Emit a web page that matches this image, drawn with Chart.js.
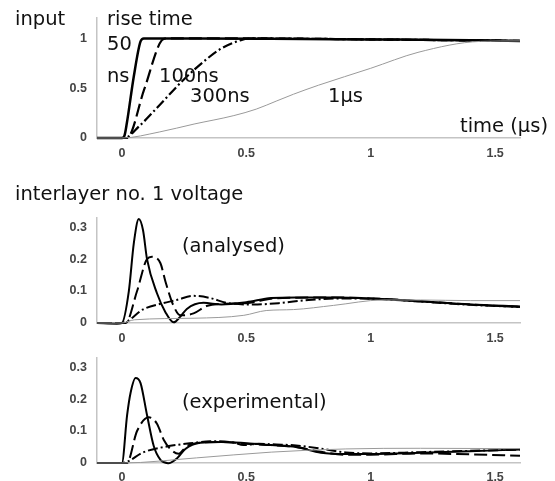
<!DOCTYPE html>
<html><head><meta charset="utf-8">
<script src="https://cdn.jsdelivr.net/npm/chart.js@4.4.1/dist/chart.umd.min.js"></script>
<style>
html,body{margin:0;padding:0;background:#fff;width:555px;height:481px;overflow:hidden;}
body{position:relative;}
canvas{position:absolute;left:0;}
.lbl{position:absolute;font-family:"DejaVu Sans";font-size:19.5px;line-height:19px;white-space:nowrap;color:#111;}
</style></head><body>
<canvas id="c1" width="555" height="165" style="top:0"></canvas>
<canvas id="c2" width="555" height="145" style="top:200px"></canvas>
<canvas id="c3" width="555" height="150" style="top:340px"></canvas>
<script>
// ---- tick labels ----
const xTicks = [0, 0.5, 1, 1.5];
const yTicksInput = [0, 0.5, 1];
const yTicksVolt = [0, 0.1, 0.2, 0.3];

// ---- input (top panel) ----
const inX50  = [-0.1, 0, 0.01, 0.02, 0.048, 0.075, 0.088, 0.3, 0.6, 1.0, 1.3, 1.6];
const inY50  = [0, 0, 0.02, 0.15, 0.62, 0.97, 1.0, 1.0, 0.997, 0.99, 0.985, 0.975];
const inX100 = [-0.1, 0, 0.02, 0.09, 0.16, 0.18, 0.5, 1.0, 1.6];
const inY100 = [0, 0, 0, 0.49, 0.98, 1.0, 1.0, 0.99, 0.975];
const inX300 = [-0.1, 0, 0.01, 0.07, 0.14, 0.25, 0.33, 0.4, 0.475, 0.52, 1.0, 1.6];
const inY300 = [0, 0, 0, 0.12, 0.3, 0.59, 0.77, 0.9, 0.98, 1.0, 0.99, 0.975];
const inX1u  = [-0.1, 0, 0.15, 0.29, 0.45, 0.54, 0.62, 0.69, 0.79, 1.0, 1.19, 1.44, 1.6];
const inY1u  = [0, 0, 0.06, 0.14, 0.225, 0.29, 0.37, 0.44, 0.53, 0.7, 0.86, 0.97, 0.975];

// ---- interlayer voltage, analysed ----
const anX50  = [-0.1, -0.02, 0, 0.028, 0.048, 0.068, 0.085, 0.101, 0.141, 0.175, 0.208, 0.235, 0.261, 0.328, 0.4, 0.5, 0.6, 0.7, 0.85, 1.0, 1.2, 1.4, 1.6];
const anY50  = [0, -0.002, 0, 0.10, 0.25, 0.325, 0.29, 0.20, 0.093, 0.034, 0.002, 0.02, 0.044, 0.063, 0.058, 0.065, 0.078, 0.08, 0.08, 0.077, 0.068, 0.058, 0.052];
const anX100 = [-0.1, 0, 0.015, 0.061, 0.101, 0.121, 0.155, 0.175, 0.208, 0.235, 0.288, 0.34, 0.395, 0.5, 0.6, 0.7, 0.85, 1.0, 1.2, 1.4, 1.6];
const anY100 = [0, 0, 0, 0.10, 0.20, 0.207, 0.187, 0.13, 0.053, 0.024, 0.03, 0.053, 0.06, 0.062, 0.076, 0.079, 0.08, 0.077, 0.068, 0.058, 0.05];
const anX300 = [-0.1, 0, 0.088, 0.155, 0.22, 0.288, 0.355, 0.421, 0.528, 0.63, 0.75, 0.9, 1.0, 1.2, 1.4, 1.6];
const anY300 = [0, 0, 0.044, 0.06, 0.072, 0.085, 0.078, 0.063, 0.058, 0.062, 0.072, 0.077, 0.076, 0.067, 0.057, 0.05];
const anX1u  = [-0.1, 0, 0.05, 0.29, 0.49, 0.58, 0.69, 0.85, 1.05, 1.2, 1.4, 1.6];
const anY1u  = [0, 0, 0.01, 0.015, 0.024, 0.039, 0.042, 0.055, 0.072, 0.072, 0.07, 0.07];

// ---- interlayer voltage, experimental ----
const exX50  = [-0.1, 0, 0.021, 0.035, 0.055, 0.075, 0.101, 0.128, 0.155, 0.188, 0.221, 0.255, 0.315, 0.4, 0.5, 0.6, 0.7, 0.8, 0.9, 1.0, 1.2, 1.4, 1.6];
const exY50  = [0, 0, 0.15, 0.22, 0.266, 0.25, 0.15, 0.053, 0.01, -0.001, 0.014, 0.044, 0.063, 0.066, 0.062, 0.056, 0.05, 0.032, 0.028, 0.028, 0.032, 0.037, 0.042];
const exX100 = [-0.1, 0, 0.02, 0.061, 0.108, 0.141, 0.168, 0.201, 0.228, 0.261, 0.32, 0.4, 0.5, 0.6, 0.7, 0.8, 0.9, 1.0, 1.2, 1.4, 1.6];
const exY100 = [0, 0, 0, 0.10, 0.143, 0.123, 0.073, 0.039, 0.029, 0.053, 0.064, 0.066, 0.06, 0.056, 0.05, 0.035, 0.026, 0.026, 0.03, 0.027, 0.023];
const exX300 = [-0.1, 0, 0.088, 0.155, 0.288, 0.355, 0.45, 0.488, 0.55, 0.62, 0.7, 0.8, 0.9, 1.0, 1.2, 1.4, 1.6];
const exY300 = [0, 0, 0.034, 0.048, 0.063, 0.068, 0.064, 0.056, 0.06, 0.058, 0.055, 0.045, 0.033, 0.03, 0.034, 0.038, 0.042];
const exX1u  = [-0.1, 0, 0.3, 0.6, 0.9, 1.2, 1.6];
const exY1u  = [0, 0, 0.016, 0.034, 0.044, 0.046, 0.045];

const pts = (xs, ys) => xs.map((x, i) => ({x: x, y: ys[i]}));

function series(xs, ys, kind, w) {
  const base = {data: pts(xs, ys), pointRadius: 0, fill: false, cubicInterpolationMode: 'monotone', clip: 8};
  if (kind === '50') return Object.assign(base, {borderColor: '#000', borderWidth: w});
  if (kind === '100') return Object.assign(base, {borderColor: '#000', borderWidth: w, borderDash: [13, 5]});
  if (kind === '300') return Object.assign(base, {borderColor: '#000', borderWidth: w, borderDash: [10, 3, 2, 3]});
  return Object.assign(base, {borderColor: '#9a9a9a', borderWidth: 1});
}

const tickFont = {family: 'Liberation Sans', size: 12.5, weight: 'bold'};

function makeChart(id, datasets, yMax, yTicks, padTop, xAxisH, xPad) {
  new Chart(document.getElementById(id), {
    type: 'line',
    data: {datasets: datasets},
    options: {
      responsive: false, animation: false, devicePixelRatio: 1,
      layout: {padding: {left: 0, right: 35, top: padTop, bottom: 0}},
      plugins: {legend: {display: false}, tooltip: {enabled: false}},
      scales: {
        x: {
          type: 'linear', min: -0.1, max: 1.6,
          afterBuildTicks: s => { s.ticks = xTicks.map(v => ({value: v})); },
          afterFit: s => { s.height = xAxisH; },
          grid: {display: false, drawTicks: false},
          border: {display: true, color: '#c4c4c4', width: 1.5},
          ticks: {color: '#444', font: tickFont, padding: xPad, maxRotation: 0, callback: v => String(v)}
        },
        y: {
          type: 'linear', min: 0, max: yMax,
          afterBuildTicks: s => { s.ticks = yTicks.map(v => ({value: v})); },
          afterFit: s => { s.width = 97; },
          grid: {display: false, drawTicks: false},
          border: {display: true, color: '#c4c4c4', width: 1.5},
          ticks: {color: '#444', font: tickFont, padding: 10, callback: v => String(v)}
        }
      }
    }
  });
}

makeChart('c1', [
  series(inX1u, inY1u, '1u', 1),
  series(inX300, inY300, '300', 2.2),
  series(inX100, inY100, '100', 2.2),
  series(inX50, inY50, '50', 2.5)
], 1.21, yTicksInput, 12, 27, 8);

makeChart('c2', [
  series(anX1u, anY1u, '1u', 1),
  series(anX300, anY300, '300', 2),
  series(anX100, anY100, '100', 2),
  series(anX50, anY50, '50', 2)
], 0.33, yTicksVolt, 12, 22, 8);

makeChart('c3', [
  series(exX1u, exY1u, '1u', 1),
  series(exX300, exY300, '300', 2),
  series(exX100, exY100, '100', 2),
  series(exX50, exY50, '50', 2)
], 0.33, yTicksVolt, 12, 27, 7);

// ---- text labels ----
const labels = [
  ['input', 15, 25], ['rise time', 107, 25], ['50', 107, 50], ['ns', 107, 82],
  ['100ns', 159, 82], ['300ns', 190, 102], ['1\u03bcs', 328, 102], ['time (\u03bcs)', 460, 132],
  ['interlayer no. 1 voltage', 15, 200], ['(analysed)', 182, 252], ['(experimental)', 182, 408]
];
labels.forEach(([t, x, base]) => {
  const d = document.createElement('div');
  d.className = 'lbl';
  d.textContent = t;
  d.style.left = x + 'px';
  d.style.top = (base - 16) + 'px';
  document.body.appendChild(d);
});
</script>
</body></html>
